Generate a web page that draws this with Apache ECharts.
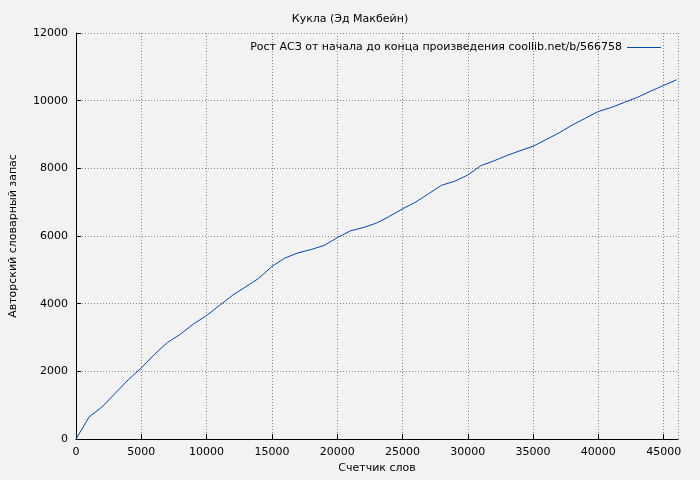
<!DOCTYPE html>
<html>
<head>
<meta charset="utf-8">
<script src="https://cdn.jsdelivr.net/npm/echarts@6/dist/echarts.min.js"></script>
<style>
html,body{margin:0;padding:0;background:#f2f2f2;}
#chart{width:700px;height:480px;}
</style>
</head>
<body>
<div id="chart"></div>
<script>
var TITLE='Кукла (Эд Макбейн)';
var SERIES_NAME='Рост АСЗ от начала до конца произведения coollib.net/b/566758';
var words=[0,1000,2000,3000,4000,5000,6000,7000,8000,9000,10000,11000,12000,13000,14000,15000,16000,17000,18000,19000,20000,21000,22000,23000,24000,25000,26000,27000,28000,29000,30000,31000,32000,33000,34000,35000,36000,37000,38000,39000,40000,41000,42000,43000,44000,45000,46000];
var vocab=[0,650,950,1350,1750,2100,2500,2850,3100,3400,3650,3950,4250,4500,4750,5100,5350,5500,5600,5720,5950,6150,6250,6380,6580,6800,7000,7250,7500,7620,7800,8080,8220,8380,8520,8650,8850,9050,9280,9480,9680,9800,9950,10100,10280,10450,10620];

var myChart=echarts.init(document.getElementById('chart'));
var data=words.map(function(w,i){return [w,vocab[i]];});
var font='DejaVu Sans';
var grid={lineStyle:{color:'#888',type:[1,2]}};
var option={
    backgroundColor:'#f2f2f2',
    animation:false,
    textStyle:{fontFamily:font},
    title:{
        text:TITLE,
        left:'center',
        top:9,
        textStyle:{fontSize:11,fontWeight:'normal',color:'#000',fontFamily:font}
    },
    legend:{
        data:[SERIES_NAME],
        right:34,
        top:37,
        icon:'path://M0,0L40,0L40,1L0,1Z',
        itemWidth:34,
        itemHeight:1,
        align:'right',
        itemGap:8,
        textStyle:{fontSize:11,color:'#000',fontFamily:font}
    },
    grid:{left:75,right:22,top:33,bottom:41},
    xAxis:{
        type:'value',
        min:0,
        max:46100,
        interval:5000,
        name:'Счетчик слов',
        nameLocation:'middle',
        nameGap:24,
        nameTextStyle:{fontSize:11,color:'#000'},
        axisLine:{lineStyle:{color:'#000'}},
        axisTick:{inside:true,lineStyle:{color:'#000'}},
        axisLabel:{fontSize:11,color:'#000',showMaxLabel:false,formatter:function(v){return String(v);}},
        splitLine:grid
    },
    yAxis:{
        type:'value',
        min:0,
        max:12000,
        interval:2000,
        name:'Авторский словарный запас',
        nameLocation:'middle',
        nameGap:57,
        nameTextStyle:{fontSize:11,color:'#000'},
        axisLine:{show:true,lineStyle:{color:'#000'}},
        axisTick:{show:true,inside:true,lineStyle:{color:'#000'}},
        axisLabel:{fontSize:11,color:'#000',formatter:function(v){return String(v);}},
        splitLine:grid
    },
    series:[{
        name:SERIES_NAME,
        type:'line',
        data:data,
        showSymbol:false,
        lineStyle:{color:'#0047b3',width:1},
        itemStyle:{color:'#0047b3'}
    }]
};
myChart.setOption(option);
</script>
</body>
</html>
